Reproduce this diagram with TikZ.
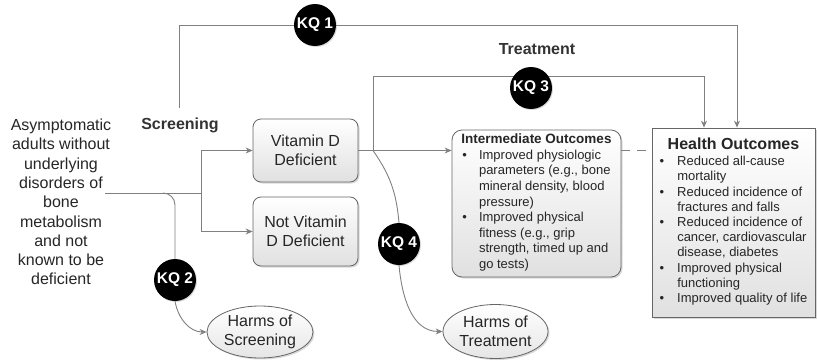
\documentclass[tikz,border=0pt]{standalone}
\usepackage{fontspec}
\setmainfont{Liberation Sans}
\usetikzlibrary{arrows.meta,shapes.geometric,shadows,backgrounds}

\begin{document}
\begin{tikzpicture}[x=1pt, y=1pt,
    every node/.style={text=black!85, font=\fontsize{16}{19.3}\selectfont},
    conn/.style={draw=black!50, line width=0.9pt},
    arr/.style={conn, -{Stealth[length=7pt, width=6pt]}},
    statebox/.style={draw=black!60, line width=0.8pt, rounded corners=8pt,
        top color=white, bottom color=black!12, align=center, inner sep=0pt,
        drop shadow={shadow xshift=1.5pt, shadow yshift=-1.5pt, opacity=0.3}},
    harmbox/.style={ellipse, draw=black!60, line width=0.8pt,
        top color=white, bottom color=black!10, align=center, inner sep=0pt,
        drop shadow={shadow xshift=1.5pt, shadow yshift=-1.5pt, opacity=0.3}},
    kq/.style={circle, fill=black, text=white, minimum size=42pt, inner sep=0pt,
        font=\fontsize{15.5}{18}\selectfont\bfseries,
        drop shadow={shadow xshift=1pt, shadow yshift=-1pt, opacity=0.3}},
    steplabel/.style={text=black!80, font=\fontsize{16}{19}\selectfont\bfseries}
]
    \useasboundingbox (0,0) rectangle (817,360);

    % Population and screening result
    \node[align=center] (pop) at (61,158) {Asymptomatic\\adults without\\underlying\\disorders of\\bone\\metabolism\\and not\\known to be\\deficient};
    \node[statebox, minimum width=105pt, minimum height=63pt] (vitd) at (305.5,209.5) {Vitamin D\\Deficient};
    \node[statebox, minimum width=105pt, minimum height=69pt] (notvitd) at (305.5,128.5) {Not Vitamin\\D Deficient};
    \node[steplabel] (scrlabel) at (180,235) {Screening};
    \node[steplabel] (trtlabel) at (537,311) {Treatment};

    % Outcome boxes
    \node[statebox, rounded corners=10pt, minimum width=169pt, minimum height=147pt,
        font=\fontsize{13}{15.6}\selectfont] (inter) at (536.5,156.5)
        {{\fontsize{13.5}{16}\selectfont\bfseries Intermediate Outcomes}\\[0pt]
         \begin{tabular}[t]{@{}l@{\hspace{12pt}}l@{}}
         \textbullet & Improved physiologic\\
          & parameters (e.g., bone\\
          & mineral density, blood\\
          & pressure)\\
         \textbullet & Improved physical\\
          & fitness (e.g., grip\\
          & strength, timed up and\\
          & go tests)
         \end{tabular}};
    \node[statebox, rounded corners=0pt, minimum width=163pt, minimum height=189pt,
        font=\fontsize{13}{15.2}\selectfont] (health) at (733.5,137.5)
        {{\fontsize{16}{19}\selectfont\bfseries Health Outcomes}\\[1pt]
         \begin{tabular}[t]{@{}l@{\hspace{13pt}}l@{}}
         \textbullet & Reduced all-cause\\
          & mortality\\
         \textbullet & Reduced incidence of\\
          & fractures and falls\\
         \textbullet & Reduced incidence of\\
          & cancer, cardiovascular\\
          & disease, diabetes\\
         \textbullet & Improved physical\\
          & functioning\\
         \textbullet & Improved quality of life
         \end{tabular}};

    % Harms
    \node[harmbox, minimum width=106pt, minimum height=52pt] (harmsS) at (260,28) {Harms of\\Screening};
    \node[harmbox, minimum width=105pt, minimum height=54pt] (harmsT) at (495.5,28.5) {Harms of\\Treatment};

    % Key questions
    \node[kq] (kq1) at (315,335) {KQ 1};
    \node[kq] (kq2) at (175,80) {KQ 2};
    \node[kq] (kq3) at (531,272) {KQ 3};
    \node[kq] (kq4) at (399,116) {KQ 4};

    \coordinate (popout) at (105,167);
    \coordinate (split) at (201,167);
    \coordinate (kq2in) at (163,167);
    \coordinate (kq1start) at (179,252);
    \coordinate (kq3start) at (373,209.5);
    \coordinate (kq3top) at (373,284);

    % Connectors
    \begin{scope}[on background layer]
        \draw[conn] (popout) -- (split);
        \draw[arr] (split) |- (vitd.west);
        \draw[arr] (split) |- (notvitd.west);
        \draw[arr] (vitd.east) -- (vitd.east -| inter.west);
        \draw[conn, dash pattern=on 9pt off 7pt] (vitd.east -| inter.east) -- (vitd.east -| health.west);
        \draw[arr] (kq1start) |- (kq1) -| ([xshift=3.5pt]health.north);
        \draw[arr] (kq3start) -- (kq3top) -| ([xshift=-29.5pt]health.north);
        \draw[conn, rounded corners=12pt] (kq2in) -| (kq2.north);
        \draw[arr] (kq2.south) to[out=-80, in=180] (harmsS.west);
        \draw[conn] (kq3start) to[out=-55, in=95] (kq4.north);
        \draw[arr] (kq4.south) to[out=-85, in=180] (harmsT.west);
    \end{scope}
\end{tikzpicture}
\end{document}
